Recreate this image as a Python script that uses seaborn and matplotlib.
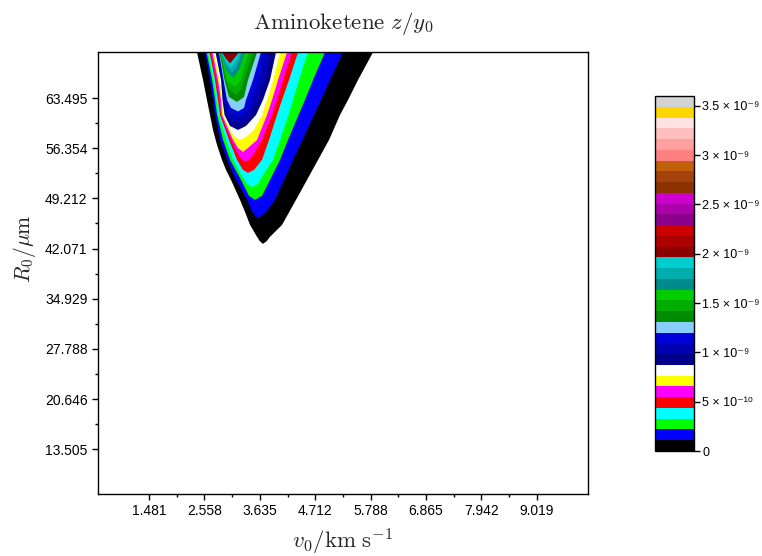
import numpy as np
import matplotlib
matplotlib.use("Agg")
import matplotlib.pyplot as plt
import seaborn as sns
from matplotlib.colors import ListedColormap, BoundaryNorm
from matplotlib.cm import ScalarMappable

# ---------------- data ----------------
# colour of each contour band, from z = 0 upward (33 bands up to 3.6e-9)
band_colors = ['#000000', '#0000ff', '#00ff00', '#00ffff', '#ff0000', '#ff00ff',
               '#ffff00', '#ffffff', '#00008b', '#0000b0', '#0000d8', '#87cefa',
               '#008b00', '#00ad00', '#00cd00', '#008b8b', '#00adad', '#00cdcd',
               '#8b0000', '#ad0000', '#cd0000', '#8b008b', '#ad00ad', '#cd00cd',
               '#8b3300', '#a3420a', '#c0600a', '#ff8080', '#ffa0a0', '#ffbfbf',
               '#ffe2e2', '#ffd700', '#d3d3d3']
z_max = 3.6e-9

# contour lines z = k * z_max / 33 (k = 0 .. 18), traced as (v0, R0) points
c00_v0 = [2.414, 2.472, 2.531, 2.608, 2.667, 2.725, 2.803, 2.900, 2.978, 3.075, 3.250, 3.347, 3.445, 3.581, 3.639, 3.697, 3.765, 3.833, 4.067, 4.339, 4.767, 4.981, 5.194, 5.350, 5.544, 5.836]
c00_R0 = [70.0, 68.05, 66.06, 63.22, 61.08, 58.95, 56.82, 54.69, 53.26, 51.84, 49.00, 47.29, 45.44, 43.74, 43.10, 42.74, 43.10, 43.74, 45.44, 49.00, 54.69, 57.53, 61.08, 63.22, 66.06, 70.0]
c01_v0 = [2.569, 2.667, 2.725, 2.764, 2.861, 2.997, 3.172, 3.386, 3.483, 3.600, 3.756, 3.931, 4.281, 4.465, 4.689, 4.825, 5.000, 5.253]
c01_R0 = [70.0, 66.06, 63.22, 61.08, 57.53, 54.69, 51.84, 49.00, 47.29, 46.37, 47.29, 49.00, 54.69, 57.53, 61.08, 63.22, 66.06, 70.0]
c02_v0 = [2.599, 2.706, 2.764, 2.803, 2.920, 3.056, 3.270, 3.425, 3.542, 3.678, 3.833, 4.028, 4.183, 4.388, 4.514, 4.669, 4.903]
c02_R0 = [70.0, 66.06, 63.22, 61.08, 57.53, 54.69, 51.84, 49.57, 49.00, 49.57, 51.84, 54.69, 57.53, 61.08, 63.22, 66.06, 70.0]
c03_v0 = [2.628, 2.735, 2.793, 2.832, 2.978, 3.114, 3.270, 3.386, 3.483, 3.600, 3.697, 3.892, 4.028, 4.193, 4.281, 4.397, 4.572]
c03_R0 = [70.0, 66.06, 63.22, 61.08, 57.53, 54.69, 52.55, 51.27, 50.85, 51.27, 52.55, 54.69, 57.53, 61.08, 63.22, 66.06, 70.0]
c04_v0 = [2.657, 2.764, 2.822, 2.861, 3.036, 3.192, 3.308, 3.406, 3.522, 3.678, 3.814, 3.969, 4.067, 4.203, 4.378]
c04_R0 = [70.0, 66.06, 63.22, 61.08, 57.53, 54.69, 53.26, 52.84, 53.26, 54.69, 57.53, 61.08, 63.22, 66.06, 70.0]
c05_v0 = [2.686, 2.793, 2.851, 2.881, 3.075, 3.192, 3.270, 3.347, 3.445, 3.542, 3.678, 3.872, 3.969, 4.086, 4.261]
c05_R0 = [70.0, 66.06, 63.22, 61.08, 57.53, 55.82, 54.83, 54.40, 54.83, 55.82, 57.53, 61.08, 63.22, 66.06, 70.0]
c06_v0 = [2.715, 2.822, 2.881, 2.900, 3.114, 3.211, 3.308, 3.406, 3.581, 3.775, 3.872, 3.989, 4.164]
c06_R0 = [70.0, 66.06, 63.22, 61.08, 57.53, 56.39, 55.82, 56.39, 57.53, 61.08, 63.22, 66.06, 70.0]
c07_v0 = [2.745, 2.851, 2.900, 2.920, 3.056, 3.153, 3.250, 3.367, 3.522, 3.678, 3.775, 3.892, 4.028]
c07_R0 = [70.0, 66.06, 63.22, 61.08, 58.95, 57.96, 57.53, 57.96, 58.95, 61.08, 63.22, 66.06, 70.0]
c08_v0 = [2.774, 2.881, 2.910, 2.949, 3.056, 3.211, 3.367, 3.561, 3.697, 3.833, 3.950]
c08_R0 = [70.0, 66.06, 63.22, 61.08, 59.52, 58.95, 59.52, 61.08, 63.22, 66.06, 70.0]
c09_v0 = [2.793, 2.900, 2.939, 2.997, 3.075, 3.211, 3.347, 3.464, 3.600, 3.736, 3.853]
c09_R0 = [70.0, 66.06, 63.22, 61.08, 60.23, 59.88, 60.23, 61.08, 63.22, 66.06, 70.0]
c10_v0 = [2.822, 2.920, 2.968, 3.046, 3.211, 3.376, 3.483, 3.619, 3.756]
c10_R0 = [70.0, 66.06, 63.22, 61.51, 60.73, 61.51, 63.22, 66.06, 70.0]
c11_v0 = [2.842, 2.929, 2.997, 3.075, 3.211, 3.328, 3.367, 3.503, 3.658]
c11_R0 = [70.0, 66.06, 63.22, 62.08, 61.58, 62.08, 63.22, 66.06, 70.0]
c12_v0 = [2.851, 2.949, 3.036, 3.192, 3.328, 3.406, 3.581]
c12_R0 = [70.0, 66.06, 63.64, 62.93, 63.64, 66.06, 70.0]
c13_v0 = [2.861, 2.968, 3.046, 3.172, 3.270, 3.328, 3.503]
c13_R0 = [70.0, 66.06, 64.64, 63.93, 64.64, 66.06, 70.0]
c14_v0 = [2.871, 2.997, 3.153, 3.260, 3.425]
c14_R0 = [70.0, 66.06, 65.07, 66.06, 70.0]
c15_v0 = [2.881, 2.978, 3.114, 3.231, 3.347]
c15_R0 = [70.0, 67.48, 66.35, 67.48, 70.0]
c16_v0 = [2.886, 2.978, 3.094, 3.192, 3.299]
c16_R0 = [70.0, 68.05, 67.06, 68.05, 70.0]
c17_v0 = [2.892, 2.978, 3.075, 3.162, 3.260]
c17_R0 = [70.0, 68.62, 67.77, 68.62, 70.0]
c18_v0 = [2.900, 2.968, 3.056, 3.143, 3.231]
c18_R0 = [70.0, 69.19, 68.41, 69.19, 70.0]

contours = [(c00_v0, c00_R0), (c01_v0, c01_R0), (c02_v0, c02_R0), (c03_v0, c03_R0),
            (c04_v0, c04_R0), (c05_v0, c05_R0), (c06_v0, c06_R0), (c07_v0, c07_R0),
            (c08_v0, c08_R0), (c09_v0, c09_R0), (c10_v0, c10_R0), (c11_v0, c11_R0),
            (c12_v0, c12_R0), (c13_v0, c13_R0), (c14_v0, c14_R0), (c15_v0, c15_R0),
            (c16_v0, c16_R0), (c17_v0, c17_R0), (c18_v0, c18_R0)]

x_ticks = [1.481, 2.558, 3.635, 4.712, 5.788, 6.865, 7.942, 9.019]
y_ticks = [13.505, 20.646, 27.788, 34.929, 42.071, 49.212, 56.354, 63.495]
cb_ticks = [0, 5e-10, 1e-9, 1.5e-9, 2e-9, 2.5e-9, 3e-9, 3.5e-9]
cb_labels = ['0', '5 × 10⁻¹⁰', '1 × 10⁻⁹', '1.5 × 10⁻⁹', '2 × 10⁻⁹',
             '2.5 × 10⁻⁹', '3 × 10⁻⁹', '3.5 × 10⁻⁹']
x_range = (0.489, 10.016)
y_range = (7.15, 70.0)

# ---------------- figure ----------------
sns.set_theme(style="ticks")
plt.rcParams['font.family'] = ['Liberation Sans', 'DejaVu Sans']
plt.rcParams['mathtext.fontset'] = 'cm'

fig = plt.figure(figsize=(7.62, 5.56), dpi=100)
ax = fig.add_axes([98 / 762, 1 - 494 / 556, 490 / 762, 441.7 / 556])

n_bands = len(band_colors)
bounds = np.linspace(0, z_max, n_bands + 1)
for k, (xs, ys) in enumerate(contours):
    ax.fill(xs, ys, color=band_colors[k], lw=0, antialiased=True)

ax.set_xlim(*x_range)
ax.set_ylim(*y_range)
ax.set_xticks(x_ticks)
ax.set_xticklabels([f"{v:.3f}" for v in x_ticks])
ax.set_yticks(y_ticks)
ax.set_yticklabels([f"{v:.3f}" for v in y_ticks])
xt = np.array(x_ticks)
yt = np.array(y_ticks)
ax.set_xticks((xt[:-1] + xt[1:]) / 2, minor=True)
ax.set_yticks((yt[:-1] + yt[1:]) / 2, minor=True)
ax.tick_params(which='major', direction='out', length=4.5, width=1.0,
               colors='black', labelsize=10, pad=3)
ax.tick_params(which='minor', direction='out', length=2.5, width=1.0, colors='black')
for s in ax.spines.values():
    s.set_visible(True)
    s.set_linewidth(1.0)
    s.set_color('black')
ax.set_facecolor('white')

ax.set_title(r'$\mathrm{Aminoketene}\ z/y_0$', fontsize=16.5, pad=17)
ax.set_xlabel(r'$v_0/\mathrm{km\ s}^{-1}$', fontsize=16.5, labelpad=6)
ax.set_ylabel(r'$R_0/\mu\mathrm{m}$', fontsize=15.5)
ax.yaxis.set_label_coords(-0.122, 0.555)

cax = fig.add_axes([655 / 762, 1 - 451 / 556, 39 / 762, 355 / 556])
cmap = ListedColormap(band_colors)
norm = BoundaryNorm(bounds, n_bands)
sm = ScalarMappable(norm=norm, cmap=cmap)
cb = fig.colorbar(sm, cax=cax, boundaries=bounds, spacing='proportional', ticks=cb_ticks)
cb.ax.set_yticklabels(cb_labels)
cb.outline.set_linewidth(1.0)
cb.outline.set_edgecolor('black')
cax.tick_params(which='major', direction='out', length=4, width=1.0, colors='black',
                labelsize=9, pad=2)
cax.minorticks_off()

fig.savefig("out.png", dpi=100)
